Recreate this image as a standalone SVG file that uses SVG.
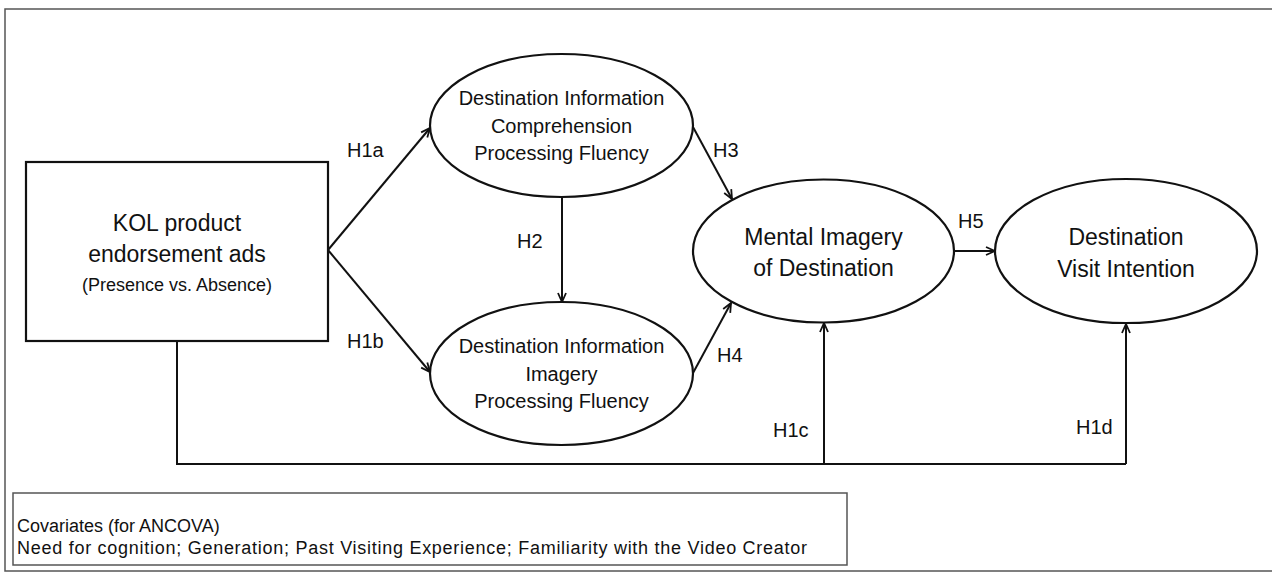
<svg xmlns="http://www.w3.org/2000/svg" width="1272" height="573" viewBox="0 0 1272 573">
  <style>
    .frame { fill: none; stroke: #555; stroke-width: 1.5; }
    .node { fill: #fff; stroke: #111; stroke-width: 2.2; }
    .edge { fill: none; stroke: #111; stroke-width: 2; }
    .t { font-family: "Liberation Sans", Arial, sans-serif; fill: #111; text-anchor: middle; }
    .lbl { font-family: "Liberation Sans", Arial, sans-serif; fill: #111; font-size: 20px; }
    .cov { font-family: "Liberation Sans", Arial, sans-serif; fill: #111; font-size: 18px; }
  </style>
  <defs>
    <marker id="arrow" markerUnits="userSpaceOnUse" markerWidth="12" markerHeight="12" refX="10" refY="5" orient="auto" viewBox="0 0 12 10">
      <path d="M1,1 L10,5 L1,9" fill="none" stroke="#111" stroke-width="1.8" stroke-linejoin="miter"/>
    </marker>
  </defs>

  <rect width="1272" height="573" fill="#fff"/>
  <rect class="frame" x="5" y="9" width="1290" height="562"/>

  <!-- connectors -->
  <g id="connectors">
    <line class="edge" x1="328" y1="250" x2="430" y2="128" marker-end="url(#arrow)"/>
    <line class="edge" x1="328" y1="250" x2="430" y2="372" marker-end="url(#arrow)"/>
    <line class="edge" x1="562" y1="197" x2="562" y2="302" marker-end="url(#arrow)"/>
    <line class="edge" x1="693" y1="127" x2="732" y2="199" marker-end="url(#arrow)"/>
    <line class="edge" x1="693" y1="373" x2="731" y2="303" marker-end="url(#arrow)"/>
    <line class="edge" x1="954" y1="251" x2="995" y2="251" marker-end="url(#arrow)"/>
    <polyline class="edge" points="177,341 177,464 1126,464"/>
    <line class="edge" x1="824" y1="464" x2="824" y2="323" marker-end="url(#arrow)"/>
    <line class="edge" x1="1126" y1="464" x2="1126" y2="324" marker-end="url(#arrow)"/>

    <text class="lbl" x="347" y="157">H1a</text>
    <text class="lbl" x="347" y="348">H1b</text>
    <text class="lbl" x="517" y="248">H2</text>
    <text class="lbl" x="713" y="157">H3</text>
    <text class="lbl" x="717" y="362">H4</text>
    <text class="lbl" x="958" y="228">H5</text>
    <text class="lbl" x="773" y="437">H1c</text>
    <text class="lbl" x="1076" y="434">H1d</text>
  </g>

  <g id="kol-ads">
    <rect class="node" x="26" y="162" width="302" height="179"/>
    <text class="t" x="177" y="231" font-size="23">KOL product</text>
    <text class="t" x="177" y="262" font-size="23">endorsement ads</text>
    <text class="t" x="177" y="291" font-size="18">(Presence vs. Absence)</text>
  </g>

  <g id="comprehension-fluency">
    <ellipse class="node" cx="561.5" cy="125.5" rx="131.5" ry="71.5"/>
    <text class="t" x="561.5" y="105" font-size="20">Destination Information</text>
    <text class="t" x="561.5" y="133" font-size="20">Comprehension</text>
    <text class="t" x="561.5" y="160" font-size="20">Processing Fluency</text>
  </g>

  <g id="imagery-fluency">
    <ellipse class="node" cx="561.5" cy="373.5" rx="131.5" ry="71.5"/>
    <text class="t" x="561.5" y="353" font-size="20">Destination Information</text>
    <text class="t" x="561.5" y="381" font-size="20">Imagery</text>
    <text class="t" x="561.5" y="408" font-size="20">Processing Fluency</text>
  </g>

  <g id="mental-imagery">
    <ellipse class="node" cx="823.5" cy="251" rx="130.5" ry="71.5"/>
    <text class="t" x="823.5" y="245" font-size="23">Mental Imagery</text>
    <text class="t" x="823.5" y="276" font-size="23">of Destination</text>
  </g>

  <g id="visit-intention">
    <ellipse class="node" cx="1126" cy="251" rx="131" ry="72"/>
    <text class="t" x="1126" y="245" font-size="23">Destination</text>
    <text class="t" x="1126" y="277" font-size="23">Visit Intention</text>
  </g>

  <g id="covariates">
    <rect x="13" y="493" width="834" height="72" fill="#fff" stroke="#555" stroke-width="1.5"/>
    <text class="cov" x="17" y="532">Covariates (for ANCOVA)</text>
    <text class="cov" x="17" y="554" textLength="790">Need for cognition; Generation; Past Visiting Experience; Familiarity with the Video Creator</text>
  </g>
</svg>
